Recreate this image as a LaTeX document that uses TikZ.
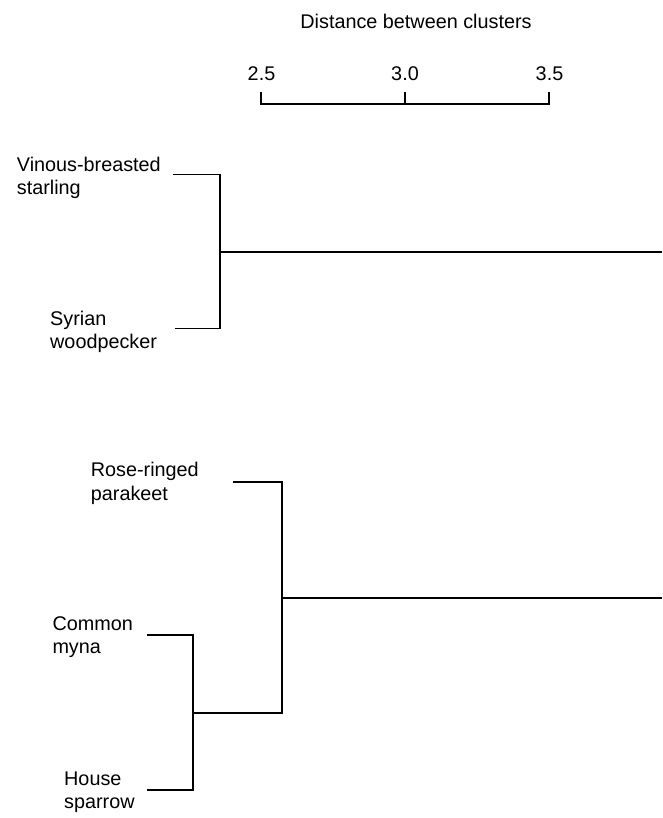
\documentclass[tikz,border=0pt]{standalone}
\usepackage{fontspec}
\setmainfont{Liberation Sans}
\begin{document}
\begin{tikzpicture}[x=1pt,y=-1pt,
  lbl/.style={font=\fontsize{19.8}{23.3}\selectfont, align=left, anchor=base west, inner sep=0pt},
  num/.style={font=\fontsize{19.8}{23.3}\selectfont, anchor=base, inner sep=0pt},
  tree/.style={draw=black, line width=1.1pt, line join=miter}]
\useasboundingbox (0,0) rectangle (662,818);
% axis
\node[num] (title) at (416,28.5) {Distance between clusters};
\coordinate (a0) at (261,104);
\coordinate (a1) at (405,104);
\coordinate (a2) at (549,104);
\coordinate (a0t) at (261,92);
\coordinate (a1t) at (405,92);
\coordinate (a2t) at (549,92);
\draw[tree] (a0t) -- (a0) -- (a2) -- (a2t);
\draw[tree] (a1) -- (a1t);
\node[num] (t0) at (261.5,80.5) {2.5};
\node[num] (t1) at (405,80.5) {3.0};
\node[num] (t2) at (549.5,80.5) {3.5};
% labels (anchored at the baseline of their last line)
\node[lbl] (vinous) at (16.7,195) {Vinous-breasted\\starling};
\node[lbl] (syrian) at (50,348.3) {Syrian\\woodpecker};
\node[lbl] (rose) at (90.7,500) {Rose-ringed\\parakeet};
\node[lbl] (common) at (52.3,653.3) {Common\\myna};
\node[lbl] (house) at (64,808.3) {House\\sparrow};
% leaf ends and junctions
\coordinate (vinE) at (173,174.5);
\coordinate (syrE) at (175,328.5);
\coordinate (j1) at (220,252);
\coordinate (r1) at (662,252);
\coordinate (roseE) at (233,482);
\coordinate (comE) at (147,635);
\coordinate (houE) at (147,790);
\coordinate (j3) at (193,713);
\coordinate (j2) at (282,598);
\coordinate (r2) at (662,598);
\draw[tree] (vinE) -| (j1);
\draw[tree] (syrE) -| (j1);
\draw[tree] (j1) -- (r1);
\draw[tree] (comE) -| (j3);
\draw[tree] (houE) -| (j3);
\draw[tree] (roseE) -| (j2);
\draw[tree] (j3) -| (j2);
\draw[tree] (j2) -- (r2);
\end{tikzpicture}
\end{document}
